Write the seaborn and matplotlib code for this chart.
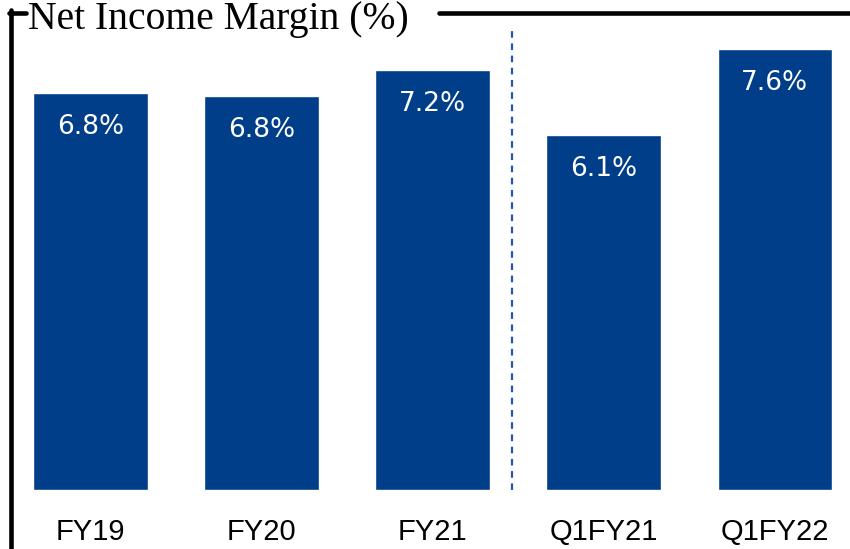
import matplotlib
matplotlib.use("Agg")
import matplotlib.pyplot as plt
import seaborn as sns
import pandas as pd
from matplotlib.lines import Line2D

# data
periods = ["FY19", "FY20", "FY21", "Q1FY21", "Q1FY22"]
margins = [6.82, 6.77, 7.21, 6.10, 7.58]
labels = ["6.8%", "6.8%", "7.2%", "6.1%", "7.6%"]

df = pd.DataFrame({"period": periods, "margin": margins})

sns.set_theme(style="white")
plt.rcParams["font.family"] = ["DejaVu Sans"]

bar_color = "#003E89"

fig = plt.figure(figsize=(8.5, 5.49), dpi=100)
ax = fig.add_axes([0, 59 / 549, 1, 490 / 549])

sns.barplot(data=df, x="period", y="margin", color=bar_color, width=0.67,
            saturation=1, ax=ax)

ax.set_xlim(-0.529, 4.439)
ax.set_ylim(0, 8.419)
ax.set_xlabel("")
ax.set_ylabel("")
ax.set_yticks([])
for s in ax.spines.values():
    s.set_visible(False)
ax.tick_params(axis="x", length=0, pad=20)
for t in ax.get_xticklabels():
    t.set_fontfamily(["Liberation Sans Narrow", "Liberation Sans"])
    t.set_fontsize(21)
    t.set_color("black")

# value labels inside the bars
for i, (v, lab) in enumerate(zip(margins, labels)):
    ax.text(i, v - 0.584, lab, ha="center", va="center", color="white",
            fontsize=19)

# dashed divider between annual and quarterly figures
ax.plot([2.463, 2.463], [0, 7.95], linestyle=(0, (3, 2.5)), color="#2456B4",
        linewidth=1.6)

# title and bracket frame
fig.text(28 / 850, 1 - 29 / 549, "Net Income Margin (%)", fontsize=28.5,
         family="Liberation Serif", va="baseline", ha="left", color="black")
yl = 1 - 12.5 / 549
fig.add_artist(Line2D([10.8 / 850, 10.8 / 850], [0, yl + 0.004],
                      transform=fig.transFigure, color="black", linewidth=3.3))
fig.add_artist(Line2D([8.5 / 850, 26 / 850], [yl, yl],
                      transform=fig.transFigure, color="black", linewidth=3.3))
fig.add_artist(Line2D([439 / 850, 1], [yl, yl],
                      transform=fig.transFigure, color="black", linewidth=3.3))

fig.savefig("out.png", dpi=100)
